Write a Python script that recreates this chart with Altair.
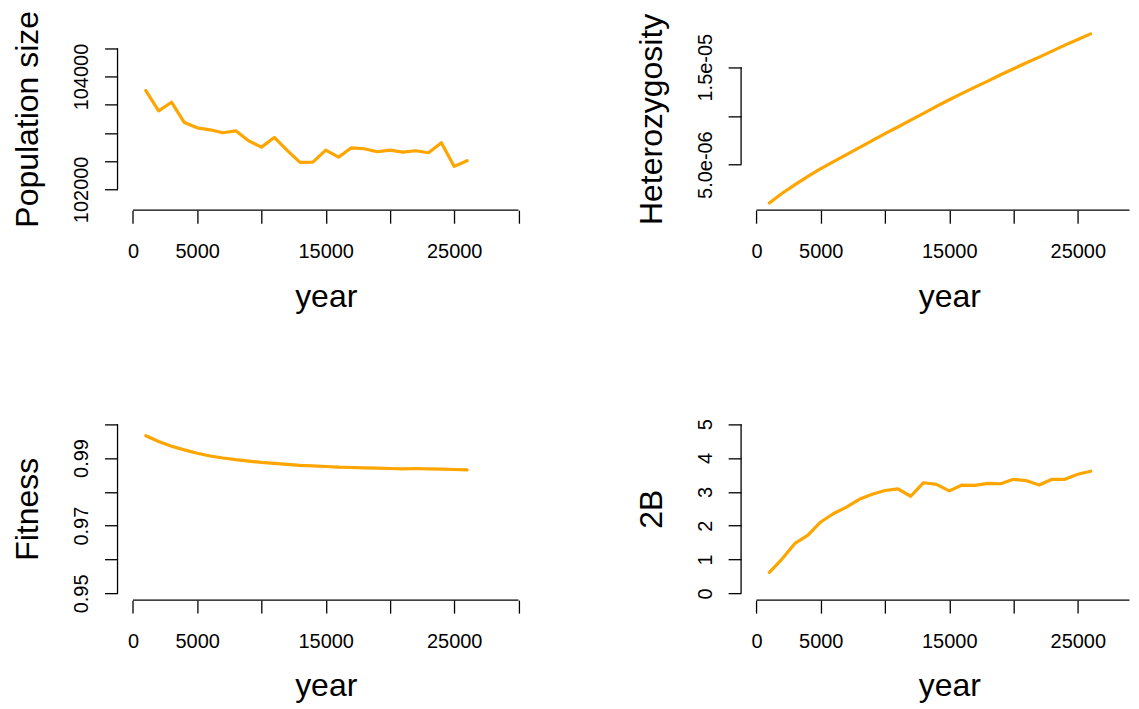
import altair as alt
import pandas as pd

# ---------------- data ----------------
years = [1000, 2000, 3000, 4000, 5000, 6000, 7000, 8000, 9000, 10000,
         11000, 12000, 13000, 14000, 15000, 16000, 17000, 18000, 19000, 20000,
         21000, 22000, 23000, 24000, 25000, 26000]

pop_size = [103752, 103392, 103545, 103185, 103091, 103056, 103003, 103038, 102861, 102749,
            102920, 102690, 102478, 102483, 102696, 102572, 102737, 102720, 102667, 102696,
            102660, 102684, 102649, 102826, 102407, 102507]

heterozygosity = [1.069e-6, 2.059e-6, 2.947e-6, 3.801e-6, 4.587e-6, 5.304e-6, 6.022e-6,
                  6.739e-6, 7.456e-6, 8.173e-6, 8.856e-6, 9.573e-6, 1.0256e-5, 1.0973e-5,
                  1.1657e-5, 1.2305e-5, 1.2954e-5, 1.3569e-5, 1.4218e-5, 1.4833e-5,
                  1.5448e-5, 1.6028e-5, 1.6643e-5, 1.7257e-5, 1.7838e-5, 1.8419e-5]

fitness = [0.9966, 0.9949, 0.9935, 0.9924, 0.9914, 0.9906, 0.9900, 0.9895, 0.9891, 0.9887,
           0.9884, 0.9881, 0.9878, 0.9877, 0.9875, 0.9873, 0.9872, 0.9871, 0.9870, 0.9869,
           0.9868, 0.9869, 0.9868, 0.9867, 0.9866, 0.9865]

two_b = [0.62, 1.02, 1.48, 1.72, 2.11, 2.36, 2.55, 2.78, 2.93, 3.04,
         3.09, 2.87, 3.27, 3.22, 3.03, 3.20, 3.19, 3.25, 3.24, 3.37,
         3.33, 3.20, 3.37, 3.37, 3.52, 3.61]

x_ticks_full = [0, 5000, 10000, 15000, 20000, 25000, 30000]
x_ticks_right = [0, 5000, 10000, 15000, 20000, 25000]
x_labels = {0: "0", 5000: "5000", 15000: "15000", 25000: "25000"}

pop_ticks = [102000, 102500, 103000, 103500, 104000, 104500]
pop_labels = {102000: "102000", 104000: "104000"}
het_ticks = [5e-06, 1e-05, 1.5e-05]
het_labels = {5e-06: "5.0e-06", 1.5e-05: "1.5e-05"}
fit_ticks = [0.95, 0.96, 0.97, 0.98, 0.99, 1.0]
fit_labels = {0.95: "0.95", 0.97: "0.97", 0.99: "0.99"}
b_ticks = [0, 1, 2, 3, 4, 5]
b_labels = {0: "0", 1: "1", 2: "2", 3: "3", 4: "4", 5: "5"}

# ---------------- style ----------------
ORANGE = "#FFA500"
FONT = "Liberation Sans"
FULL_W = 417
RIGHT_W = 389          # right-hand panels are cut at the page edge, as in the reference
H = 183
X_DOM_FULL = [-1200, 31200]
X_DOM_RIGHT = [-1200, -1200 + RIGHT_W * (X_DOM_FULL[1] - X_DOM_FULL[0]) / FULL_W]


def label_expr(mapping):
    expr = "''"
    for k, v in reversed(list(mapping.items())):
        expr = f"datum.value == {k!r} ? '{v}' : ({expr})"
    return expr


def panel(values, ydom, yticks, ylabels, ytitle, width, xdom, xticks):
    xscale = alt.Scale(domain=xdom, nice=False, zero=False)
    yscale = alt.Scale(domain=ydom, nice=False, zero=False)
    xaxis = alt.Axis(values=xticks, labelExpr=label_expr(x_labels), title="year",
                     titleX=FULL_W / 2, titleY=96, titleBaseline="alphabetic",
                     titleAlign="center", labelPadding=18)
    yaxis = alt.Axis(values=yticks, labelExpr=label_expr(ylabels), title=ytitle,
                     titleAngle=270, titleX=-80, titleY=H / 2,
                     titleBaseline="alphabetic", titleAlign="center",
                     labelAngle=270, labelAlign="center", labelBaseline="alphabetic",
                     labelPadding=17)

    df = pd.DataFrame({"year": years, "v": values})
    line = alt.Chart(df).mark_line(color=ORANGE, strokeWidth=3.2, strokeJoin="round",
                                   strokeCap="round").encode(
        x=alt.X("year:Q", scale=xscale, axis=xaxis),
        y=alt.Y("v:Q", scale=yscale, axis=yaxis),
    )

    # y axis line: from first to last tick, at the left edge of the plot region
    ydf = pd.DataFrame({"year": [xdom[0]], "v": [yticks[0]], "v2": [yticks[-1]]})
    yline = alt.Chart(ydf).mark_rule(color="black", strokeWidth=1.3).encode(
        x=alt.X("year:Q", scale=xscale, axis=xaxis),
        y=alt.Y("v:Q", scale=yscale, axis=yaxis),
        y2="v2:Q",
    )

    # x axis line: from 0 to 30000 (or the visible edge), at the bottom of the plot region
    xdf = pd.DataFrame({"year": [0], "year2": [min(30000, xdom[1])], "v": [ydom[0]]})
    xline = alt.Chart(xdf).mark_rule(color="black", strokeWidth=1.3).encode(
        x=alt.X("year:Q", scale=xscale, axis=xaxis),
        x2="year2:Q",
        y=alt.Y("v:Q", scale=yscale, axis=yaxis),
    )

    return alt.layer(line, yline, xline).properties(width=width, height=H)


p1 = panel(pop_size, [101630, 104870], pop_ticks, pop_labels, "Population size",
           FULL_W, X_DOM_FULL, x_ticks_full)
p2 = panel(heterozygosity, [3.2e-7, 1.907e-5], het_ticks, het_labels, "Heterozygosity",
           RIGHT_W, X_DOM_RIGHT, x_ticks_right)
p3 = panel(fitness, [0.948, 1.002], fit_ticks, fit_labels, "Fitness",
           FULL_W, X_DOM_FULL, x_ticks_full)
p4 = panel(two_b, [-0.2, 5.2], b_ticks, b_labels, "2B",
           RIGHT_W, X_DOM_RIGHT, x_ticks_right)

chart = alt.concat(p1, p2, p3, p4, columns=2, spacing=207.5, bounds="flush",
                   align="each").properties(
    padding={"left": 3.7, "top": 1, "right": 0, "bottom": 0},
    background="white",
).configure_view(stroke=None).configure_axis(
    domain=False,
    grid=False,
    ticks=True,
    tickColor="black",
    tickWidth=1.3,
    tickSize=13,
    labelFont=FONT,
    labelFontSize=20,
    labelColor="black",
    labelOverlap=False,
    labelFlush=False,
    titleFont=FONT,
    titleFontSize=32,
    titleFontWeight="normal",
    titleColor="black",
)

chart.save("out.html", embed_options={"renderer": "svg", "actions": False})
